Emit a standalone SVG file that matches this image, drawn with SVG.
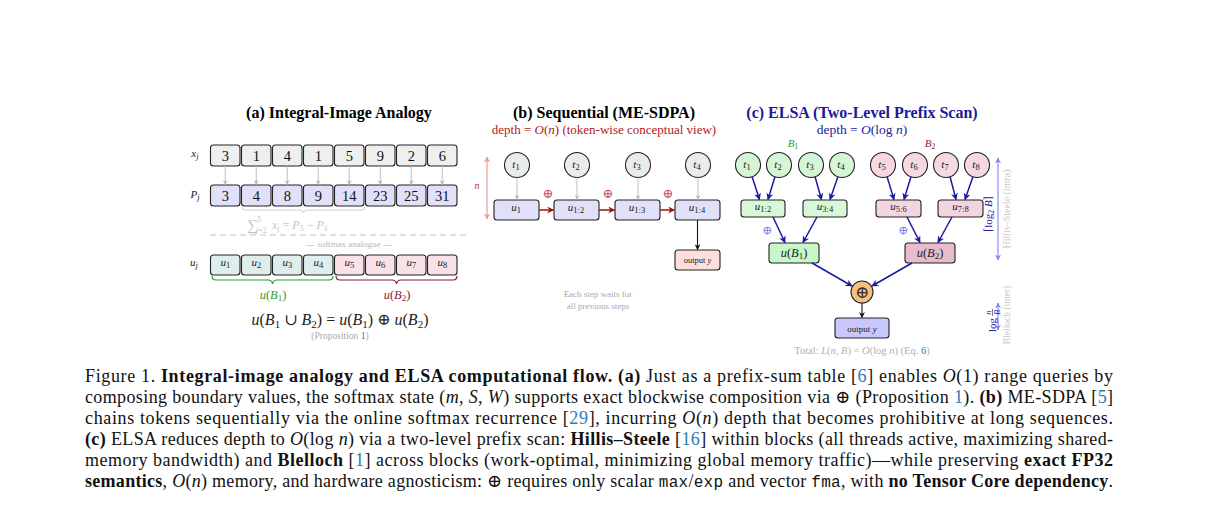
<svg xmlns="http://www.w3.org/2000/svg" width="1205" height="515" viewBox="0 0 1205 515">
<style>
text{font-family:"Liberation Serif","DejaVu Serif",serif;}
.ttl{font-size:16px;font-weight:bold;text-anchor:middle;}
.box{stroke:#222;stroke-width:1.1;}
.num{font-size:14.5px;text-anchor:middle;fill:#111;}
.lbl{font-size:11px;text-anchor:middle;fill:#222;}
.it{font-style:italic;}
.sub{font-size:8.5px;}
.circ{stroke:#222;stroke-width:1.1;}
.navyL{stroke:#1a1aa0;stroke-width:1.5;fill:none;marker-end:url(#ah-navy);}
.grayL{stroke:#b8b8b8;stroke-width:0.9;fill:none;marker-end:url(#ah-gray);}
.redL{stroke:#a01010;stroke-width:1.5;fill:none;marker-end:url(#ah-red);}
.blkL{stroke:#111;stroke-width:1.1;fill:none;marker-end:url(#ah-blk);}
.cap{font-size:18px;fill:#111;}
.b{font-weight:bold;}
.cite{fill:#2b7bba;}
.mono{font-family:"Liberation Mono","DejaVu Sans Mono",monospace;font-size:16px;}
</style>
<defs>
<marker id="ah-navy" viewBox="0 0 10 10" refX="9" refY="5" markerWidth="7" markerHeight="7" markerUnits="userSpaceOnUse" orient="auto-start-reverse"><path d="M0,0 L10,5 L0,10 L3,5 z" fill="#1a1aa0"/></marker>
<marker id="ah-gray" viewBox="0 0 10 10" refX="9" refY="5" markerWidth="5" markerHeight="5" markerUnits="userSpaceOnUse" orient="auto-start-reverse"><path d="M0,0 L10,5 L0,10 L3,5 z" fill="#b8b8b8"/></marker>
<marker id="ah-red" viewBox="0 0 10 10" refX="9" refY="5" markerWidth="7" markerHeight="7" markerUnits="userSpaceOnUse" orient="auto-start-reverse"><path d="M0,0 L10,5 L0,10 L3,5 z" fill="#a01010"/></marker>
<marker id="ah-blk" viewBox="0 0 10 10" refX="9" refY="5" markerWidth="6" markerHeight="6" markerUnits="userSpaceOnUse" orient="auto-start-reverse"><path d="M0,0 L10,5 L0,10 L3,5 z" fill="#111"/></marker>
<marker id="ah-pink" viewBox="0 0 10 10" refX="9" refY="5" markerWidth="6" markerHeight="6" markerUnits="userSpaceOnUse" orient="auto-start-reverse"><path d="M0,0 L10,5 L0,10 L3,5 z" fill="#f09090"/></marker>
<marker id="ah-blue" viewBox="0 0 10 10" refX="9" refY="5" markerWidth="6" markerHeight="6" markerUnits="userSpaceOnUse" orient="auto-start-reverse"><path d="M0,0 L10,5 L0,10 L3,5 z" fill="#8080ff"/></marker>
</defs>
<rect width="1205" height="515" fill="#fff"/>

<!-- ============ Panel (a) ============ -->
<g id="panel-a">
<text class="ttl" x="339" y="118">(a) Integral-Image Analogy</text>
<text class="lbl it" x="195" y="157"><tspan>x</tspan><tspan class="sub" dy="2">j</tspan></text>
<text class="lbl it" x="195" y="198"><tspan>P</tspan><tspan class="sub" dy="2">j</tspan></text>
<text class="lbl it" x="194" y="266"><tspan>u</tspan><tspan class="sub" dy="2">j</tspan></text>
</g>
<g id="row-x" fill="#efefef">
<rect class="box" x="210.5" y="145" width="29.5" height="21" rx="3"/>
<rect class="box" x="241.5" y="145" width="29.5" height="21" rx="3"/>
<rect class="box" x="272.5" y="145" width="29.5" height="21" rx="3"/>
<rect class="box" x="303.5" y="145" width="29.5" height="21" rx="3"/>
<rect class="box" x="334.5" y="145" width="29.5" height="21" rx="3"/>
<rect class="box" x="365.5" y="145" width="29.5" height="21" rx="3"/>
<rect class="box" x="396.5" y="145" width="29.5" height="21" rx="3"/>
<rect class="box" x="427.5" y="145" width="29.5" height="21" rx="3"/>
<text class="num" x="225.25" y="160.5">3</text>
<text class="num" x="256.25" y="160.5">1</text>
<text class="num" x="287.25" y="160.5">4</text>
<text class="num" x="318.25" y="160.5">1</text>
<text class="num" x="349.25" y="160.5">5</text>
<text class="num" x="380.25" y="160.5">9</text>
<text class="num" x="411.25" y="160.5">2</text>
<text class="num" x="442.25" y="160.5">6</text>
</g>
<g id="row-p" fill="#e0e0f8">
<rect class="box" x="210.5" y="185" width="29.5" height="21" rx="3"/>
<rect class="box" x="241.5" y="185" width="29.5" height="21" rx="3"/>
<rect class="box" x="272.5" y="185" width="29.5" height="21" rx="3"/>
<rect class="box" x="303.5" y="185" width="29.5" height="21" rx="3"/>
<rect class="box" x="334.5" y="185" width="29.5" height="21" rx="3"/>
<rect class="box" x="365.5" y="185" width="29.5" height="21" rx="3"/>
<rect class="box" x="396.5" y="185" width="29.5" height="21" rx="3"/>
<rect class="box" x="427.5" y="185" width="29.5" height="21" rx="3"/>
<text class="num" x="225.25" y="200.5">3</text>
<text class="num" x="256.25" y="200.5">4</text>
<text class="num" x="287.25" y="200.5">8</text>
<text class="num" x="318.25" y="200.5">9</text>
<text class="num" x="349.25" y="200.5">14</text>
<text class="num" x="380.25" y="200.5">23</text>
<text class="num" x="411.25" y="200.5">25</text>
<text class="num" x="442.25" y="200.5">31</text>
</g>
<g id="range-note">
<path d="M242,207 Q242,210 245,210 L300,210 Q303,210 303.5,213 Q304,210 307,210 L362,210 Q365,210 365,207" fill="none" stroke="#c8c8c8" stroke-width="0.9"/>
<g fill="#c4c4c4">
<text x="247" y="230" font-size="15">∑</text>
<text x="257" y="222" font-size="8">5</text>
<text x="256" y="233" font-size="8"><tspan class="it">j</tspan>=2</text>
<text x="272" y="229" font-size="12"><tspan class="it">x</tspan><tspan font-size="8" class="it" dy="2">j</tspan><tspan dy="-2"> = </tspan><tspan class="it">P</tspan><tspan font-size="8" dy="2">5</tspan><tspan dy="-2"> − </tspan><tspan class="it">P</tspan><tspan font-size="8" dy="2">1</tspan></text>
</g>
<line x1="210" y1="235" x2="470" y2="235" stroke="#bbb" stroke-width="0.9" stroke-dasharray="6,4"/>
<text x="349" y="246.5" font-size="9" fill="#b8b8b8" text-anchor="middle">— softmax analogue —</text>
</g>
<g id="row-u">
<g fill="#ddeeed">
<rect class="box" x="210.5" y="255" width="29.5" height="20" rx="3"/>
<rect class="box" x="241.5" y="255" width="29.5" height="20" rx="3"/>
<rect class="box" x="272.5" y="255" width="29.5" height="20" rx="3"/>
<rect class="box" x="303.5" y="255" width="29.5" height="20" rx="3"/>
</g>
<g fill="#f9e1e8">
<rect class="box" x="334.5" y="255" width="29.5" height="20" rx="3"/>
<rect class="box" x="365.5" y="255" width="29.5" height="20" rx="3"/>
<rect class="box" x="396.5" y="255" width="29.5" height="20" rx="3"/>
<rect class="box" x="427.5" y="255" width="29.5" height="20" rx="3"/>
</g>
<text class="lbl" x="225.25" y="266"><tspan class="it">u</tspan><tspan class="sub" dy="2">1</tspan></text>
<text class="lbl" x="256.25" y="266"><tspan class="it">u</tspan><tspan class="sub" dy="2">2</tspan></text>
<text class="lbl" x="287.25" y="266"><tspan class="it">u</tspan><tspan class="sub" dy="2">3</tspan></text>
<text class="lbl" x="318.25" y="266"><tspan class="it">u</tspan><tspan class="sub" dy="2">4</tspan></text>
<text class="lbl" x="349.25" y="266"><tspan class="it">u</tspan><tspan class="sub" dy="2">5</tspan></text>
<text class="lbl" x="380.25" y="266"><tspan class="it">u</tspan><tspan class="sub" dy="2">6</tspan></text>
<text class="lbl" x="411.25" y="266"><tspan class="it">u</tspan><tspan class="sub" dy="2">7</tspan></text>
<text class="lbl" x="442.25" y="266"><tspan class="it">u</tspan><tspan class="sub" dy="2">8</tspan></text>
<path d="M212,276 Q212,280 216,280 L268,280 Q272,280 272.5,284 Q273,280 277,280 L329,280 Q333,280 333,276" fill="none" stroke="#2e9a2e" stroke-width="1.2"/>
<path d="M336,276 Q336,280 340,280 L392,280 Q396,280 396.5,284 Q397,280 401,280 L453,280 Q457,280 457,276" fill="none" stroke="#8a1a3a" stroke-width="1.2"/>
<text x="273" y="299" font-size="12.5" fill="#2e9a2e" text-anchor="middle"><tspan class="it">u</tspan>(<tspan class="it">B</tspan><tspan font-size="9" dy="2">1</tspan><tspan dy="-2">)</tspan></text>
<text x="397" y="299" font-size="12.5" fill="#8a1a3a" text-anchor="middle"><tspan class="it">u</tspan>(<tspan class="it">B</tspan><tspan font-size="9" dy="2">2</tspan><tspan dy="-2">)</tspan></text>
<text x="340" y="325" font-size="16" fill="#222" text-anchor="middle"><tspan class="it">u</tspan>(<tspan class="it">B</tspan><tspan font-size="11" dy="3">1</tspan><tspan dy="-3"> ∪ </tspan><tspan class="it">B</tspan><tspan font-size="11" dy="3">2</tspan><tspan dy="-3">) = </tspan><tspan class="it">u</tspan>(<tspan class="it">B</tspan><tspan font-size="11" dy="3">1</tspan><tspan dy="-3">) ⊕ </tspan><tspan class="it">u</tspan>(<tspan class="it">B</tspan><tspan font-size="11" dy="3">2</tspan><tspan dy="-3">)</tspan></text>
<text x="340" y="339" font-size="9.5" fill="#aaa" text-anchor="middle">(Proposition <tspan class="cite">1</tspan>)</text>
</g>

<!-- ============ Panel (b) ============ -->
<g id="panel-b">
<text class="ttl" x="604" y="118">(b) Sequential (ME-SDPA)</text>
<text x="604" y="134" font-size="13" fill="#b02020" text-anchor="middle">depth = <tspan class="it">O</tspan>(<tspan class="it">n</tspan>) (token-wise conceptual view)</text>
<text x="477" y="189" font-size="10" fill="#c03030" class="it" text-anchor="middle">n</text>
<text x="548" y="198" font-size="13" fill="#d05050" text-anchor="middle">⊕</text>
<text x="608" y="198" font-size="13" fill="#d05050" text-anchor="middle">⊕</text>
<text x="668" y="198" font-size="13" fill="#d05050" text-anchor="middle">⊕</text>
<text x="598" y="297" font-size="9" fill="#aaa" text-anchor="middle">Each step waits for</text>
<text x="598" y="309" font-size="9" fill="#aaa" text-anchor="middle">all previous steps</text>
</g>
<g id="b-t1"><circle class="circ" cx="517" cy="165" r="12.5" fill="#ebebeb"/><text class="lbl" x="516" y="168"><tspan class="it">t</tspan><tspan class="sub" dy="2">1</tspan></text></g>
<g id="b-t2"><circle class="circ" cx="577" cy="165" r="12.5" fill="#ebebeb"/><text class="lbl" x="576" y="168"><tspan class="it">t</tspan><tspan class="sub" dy="2">2</tspan></text></g>
<g id="b-t3"><circle class="circ" cx="638" cy="165" r="12.5" fill="#ebebeb"/><text class="lbl" x="637" y="168"><tspan class="it">t</tspan><tspan class="sub" dy="2">3</tspan></text></g>
<g id="b-t4"><circle class="circ" cx="698" cy="165" r="12.5" fill="#ebebeb"/><text class="lbl" x="697" y="168"><tspan class="it">t</tspan><tspan class="sub" dy="2">4</tspan></text></g>
<g id="b-u1"><rect class="box" x="494" y="200" width="45" height="20" rx="3" fill="#e0e0f8"/><text class="lbl" x="516" y="211"><tspan class="it">u</tspan><tspan class="sub" dy="2">1</tspan></text></g>
<g id="b-u12"><rect class="box" x="554" y="200" width="45" height="20" rx="3" fill="#e0e0f8"/><text class="lbl" x="576" y="211"><tspan class="it">u</tspan><tspan class="sub" dy="2">1:2</tspan></text></g>
<g id="b-u13"><rect class="box" x="615" y="200" width="45" height="20" rx="3" fill="#e0e0f8"/><text class="lbl" x="637" y="211"><tspan class="it">u</tspan><tspan class="sub" dy="2">1:3</tspan></text></g>
<g id="b-u14"><rect class="box" x="675" y="200" width="45" height="20" rx="3" fill="#e0e0f8"/><text class="lbl" x="697" y="211"><tspan class="it">u</tspan><tspan class="sub" dy="2">1:4</tspan></text></g>
<g id="b-out"><rect class="box" x="675" y="250" width="45" height="20" rx="3" fill="#fcdede"/><text x="697.5" y="263" font-size="8.5" fill="#222" text-anchor="middle">output <tspan class="it">y</tspan></text></g>

<!-- ============ Panel (c) ============ -->
<g id="panel-c">
<text class="ttl" x="862" y="118" fill="#1a1a9a">(c) ELSA (Two-Level Prefix Scan)</text>
<text x="862" y="134" font-size="13.5" fill="#2020a0" text-anchor="middle">depth = <tspan class="it">O</tspan>(log <tspan class="it">n</tspan>)</text>
<text x="793" y="147" font-size="11" fill="#2e9a2e" text-anchor="middle"><tspan class="it">B</tspan><tspan font-size="8" dy="2">1</tspan></text>
<text x="930" y="147" font-size="11" fill="#8a1a3a" text-anchor="middle"><tspan class="it">B</tspan><tspan font-size="8" dy="2">2</tspan></text>
<text x="767" y="234" font-size="12" fill="#8080ee" text-anchor="middle">⊕</text>
<text x="903" y="234" font-size="12" fill="#8080ee" text-anchor="middle">⊕</text>
<text x="862" y="354" font-size="10.5" fill="#b0b0b0" text-anchor="middle">Total: <tspan class="it">L</tspan>(<tspan class="it">n</tspan>, <tspan class="it">B</tspan>) = <tspan class="it">O</tspan>(log <tspan class="it">n</tspan>) (Eq. <tspan class="cite">6</tspan>)</text>
</g>
<g id="c-t1"><circle class="circ" cx="748" cy="165" r="12.5" fill="#d5f5d5"/><text class="lbl" x="747" y="168"><tspan class="it">t</tspan><tspan class="sub" dy="2">1</tspan></text></g>
<g id="c-t2"><circle class="circ" cx="779" cy="165" r="12.5" fill="#d5f5d5"/><text class="lbl" x="778" y="168"><tspan class="it">t</tspan><tspan class="sub" dy="2">2</tspan></text></g>
<g id="c-t3"><circle class="circ" cx="811" cy="165" r="12.5" fill="#d5f5d5"/><text class="lbl" x="810" y="168"><tspan class="it">t</tspan><tspan class="sub" dy="2">3</tspan></text></g>
<g id="c-t4"><circle class="circ" cx="842" cy="165" r="12.5" fill="#d5f5d5"/><text class="lbl" x="841" y="168"><tspan class="it">t</tspan><tspan class="sub" dy="2">4</tspan></text></g>
<g id="c-t5"><circle class="circ" cx="883" cy="165" r="12.5" fill="#f5d8e0"/><text class="lbl" x="882" y="168"><tspan class="it">t</tspan><tspan class="sub" dy="2">5</tspan></text></g>
<g id="c-t6"><circle class="circ" cx="915" cy="165" r="12.5" fill="#f5d8e0"/><text class="lbl" x="914" y="168"><tspan class="it">t</tspan><tspan class="sub" dy="2">6</tspan></text></g>
<g id="c-t7"><circle class="circ" cx="946" cy="165" r="12.5" fill="#f5d8e0"/><text class="lbl" x="945" y="168"><tspan class="it">t</tspan><tspan class="sub" dy="2">7</tspan></text></g>
<g id="c-t8"><circle class="circ" cx="977" cy="165" r="12.5" fill="#f5d8e0"/><text class="lbl" x="976" y="168"><tspan class="it">t</tspan><tspan class="sub" dy="2">8</tspan></text></g>
<g id="c-u12"><rect class="box" x="741" y="200" width="44" height="17" rx="3" fill="#d8f8d8"/><text class="lbl" x="763" y="210"><tspan class="it">u</tspan><tspan class="sub" dy="2">1:2</tspan></text></g>
<g id="c-u34"><rect class="box" x="803" y="200" width="44" height="17" rx="3" fill="#d8f8d8"/><text class="lbl" x="825" y="210"><tspan class="it">u</tspan><tspan class="sub" dy="2">3:4</tspan></text></g>
<g id="c-u56"><rect class="box" x="876" y="200" width="45" height="17" rx="3" fill="#f2d5e0"/><text class="lbl" x="898.5" y="210"><tspan class="it">u</tspan><tspan class="sub" dy="2">5:6</tspan></text></g>
<g id="c-u78"><rect class="box" x="938" y="200" width="45" height="17" rx="3" fill="#f2d5e0"/><text class="lbl" x="960.5" y="210"><tspan class="it">u</tspan><tspan class="sub" dy="2">7:8</tspan></text></g>
<g id="c-uB1"><rect class="box" x="769" y="243" width="50" height="20" rx="3" fill="#c8f8c8"/><text x="794" y="257" font-size="12.5" fill="#222" text-anchor="middle"><tspan class="it">u</tspan>(<tspan class="it">B</tspan><tspan font-size="9" dy="2">1</tspan><tspan dy="-2">)</tspan></text></g>
<g id="c-uB2"><rect class="box" x="905" y="243" width="50" height="20" rx="3" fill="#e8bccc"/><text x="930" y="257" font-size="12.5" fill="#222" text-anchor="middle"><tspan class="it">u</tspan>(<tspan class="it">B</tspan><tspan font-size="9" dy="2">2</tspan><tspan dy="-2">)</tspan></text></g>
<g id="c-combine"><circle class="circ" cx="862" cy="292" r="11" fill="#f8c080"/><text x="862" y="298" font-size="17" fill="#333" text-anchor="middle">⊕</text></g>
<g id="c-out"><rect class="box" x="835" y="318" width="54" height="20" rx="3" fill="#c8c8fa"/><text x="862" y="331.5" font-size="9" fill="#222" text-anchor="middle">output <tspan class="it">y</tspan></text></g>
<g id="c-depth-notes">
<line x1="998" y1="158" x2="998" y2="260" stroke="#8080ff" stroke-width="1.1" marker-start="url(#ah-blue)" marker-end="url(#ah-blue)"/>
<text transform="translate(992,214) rotate(-90)" font-size="11" fill="#2020a0" text-anchor="middle">⌈log<tspan font-size="8" dy="2">2</tspan><tspan dy="-2" class="it"> B</tspan>⌉</text>
<text transform="translate(1010,209) rotate(-90)" font-size="10" fill="#c8c8c8" text-anchor="middle">Hillis–Steele (intra)</text>
<line x1="998" y1="303" x2="998" y2="330" stroke="#8080ff" stroke-width="1.1" marker-start="url(#ah-blue)" marker-end="url(#ah-blue)"/>
<g transform="translate(992,316) rotate(-90)" fill="#2020a0">
<text x="-2" y="3.5" font-size="11" text-anchor="end">log</text>
<text x="3.5" y="-1" font-size="8.5" class="it" text-anchor="middle">n</text>
<line x1="0" y1="0.5" x2="7" y2="0.5" stroke="#2020a0" stroke-width="0.6"/>
<text x="3.5" y="7.5" font-size="8.5" class="it" text-anchor="middle">B</text>
</g>
<text transform="translate(1010,315) rotate(-90)" font-size="9.5" fill="#c8c8c8" text-anchor="middle">Blelloch (inter)</text>
</g>

<!-- ============ Connectors ============ -->
<g id="connectors">
<line class="grayL" x1="225.25" y1="166" x2="225.25" y2="184.5"/>
<line class="grayL" x1="256.25" y1="166" x2="256.25" y2="184.5"/>
<line class="grayL" x1="287.25" y1="166" x2="287.25" y2="184.5"/>
<line class="grayL" x1="318.25" y1="166" x2="318.25" y2="184.5"/>
<line class="grayL" x1="349.25" y1="166" x2="349.25" y2="184.5"/>
<line class="grayL" x1="380.25" y1="166" x2="380.25" y2="184.5"/>
<line class="grayL" x1="411.25" y1="166" x2="411.25" y2="184.5"/>
<line class="grayL" x1="442.25" y1="166" x2="442.25" y2="184.5"/>
<line x1="487" y1="157" x2="487" y2="219" stroke="#f09090" stroke-width="1.1" marker-start="url(#ah-pink)" marker-end="url(#ah-pink)"/>
<line class="grayL" x1="517" y1="177.5" x2="517" y2="199.5"/>
<line class="grayL" x1="577" y1="177.5" x2="577" y2="199.5"/>
<line class="grayL" x1="638" y1="177.5" x2="638" y2="199.5"/>
<line class="grayL" x1="698" y1="177.5" x2="698" y2="199.5"/>
<line class="redL" x1="539" y1="210" x2="553.5" y2="210"/>
<line class="redL" x1="599" y1="210" x2="614.5" y2="210"/>
<line class="redL" x1="660" y1="210" x2="674.5" y2="210"/>
<line class="blkL" x1="697.5" y1="220" x2="697.5" y2="249.5"/>
<line class="navyL" x1="752" y1="176.5" x2="759.5" y2="199.5"/>
<line class="navyL" x1="775" y1="176.5" x2="768" y2="199.5"/>
<line class="navyL" x1="815" y1="176.5" x2="821.5" y2="199.5"/>
<line class="navyL" x1="838" y1="176.5" x2="830" y2="199.5"/>
<line class="navyL" x1="887" y1="176.5" x2="894" y2="199.5"/>
<line class="navyL" x1="911" y1="176.5" x2="904" y2="199.5"/>
<line class="navyL" x1="950" y1="176.5" x2="956" y2="199.5"/>
<line class="navyL" x1="973" y1="176.5" x2="965" y2="199.5"/>
<line class="navyL" x1="773" y1="217" x2="785" y2="242.5"/>
<line class="navyL" x1="817" y1="217" x2="803" y2="242.5"/>
<line class="navyL" x1="907" y1="217" x2="920" y2="242.5"/>
<line class="navyL" x1="952" y1="217" x2="938" y2="242.5"/>
<line class="navyL" x1="812" y1="263" x2="852" y2="286"/>
<line class="navyL" x1="912" y1="263" x2="872" y2="286"/>
<line class="blkL" x1="862" y1="303" x2="862" y2="317.5"/>
</g>

<!-- ============ Caption ============ -->
<g id="caption" class="cap">
<text class="cap" x="85" y="382" textLength="1028" lengthAdjust="spacing">Figure 1.  <tspan class="b">Integral-image analogy and ELSA computational flow.</tspan>  <tspan class="b">(a)</tspan> Just as a prefix-sum table [<tspan class="cite">6</tspan>] enables <tspan class="it">O</tspan>(1) range queries by</text>
<text class="cap" x="85" y="403" textLength="1028" lengthAdjust="spacing">composing boundary values, the softmax state (<tspan class="it">m, S, W</tspan>) supports exact blockwise composition via ⊕ (Proposition <tspan class="cite">1</tspan>). <tspan class="b">(b)</tspan> ME-SDPA [<tspan class="cite">5</tspan>]</text>
<text class="cap" x="85" y="424" textLength="1028" lengthAdjust="spacing">chains tokens sequentially via the online softmax recurrence [<tspan class="cite">29</tspan>], incurring <tspan class="it">O</tspan>(<tspan class="it">n</tspan>) depth that becomes prohibitive at long sequences.</text>
<text class="cap" x="85" y="445" textLength="1028" lengthAdjust="spacing"><tspan class="b">(c)</tspan> ELSA reduces depth to <tspan class="it">O</tspan>(log <tspan class="it">n</tspan>) via a two-level prefix scan: <tspan class="b">Hillis–Steele</tspan> [<tspan class="cite">16</tspan>] within blocks (all threads active, maximizing shared-</text>
<text class="cap" x="85" y="466" textLength="1028" lengthAdjust="spacing">memory bandwidth) and <tspan class="b">Blelloch</tspan> [<tspan class="cite">1</tspan>] across blocks (work-optimal, minimizing global memory traffic)—while preserving <tspan class="b">exact FP32</tspan></text>
<text class="cap" x="85" y="487" textLength="1028" lengthAdjust="spacing"><tspan class="b">semantics</tspan>, <tspan class="it">O</tspan>(<tspan class="it">n</tspan>) memory, and hardware agnosticism: ⊕ requires only scalar <tspan class="mono">max</tspan>/<tspan class="mono">exp</tspan> and vector <tspan class="mono">fma</tspan>, with <tspan class="b">no Tensor Core dependency</tspan>.</text>
</g>
</svg>
